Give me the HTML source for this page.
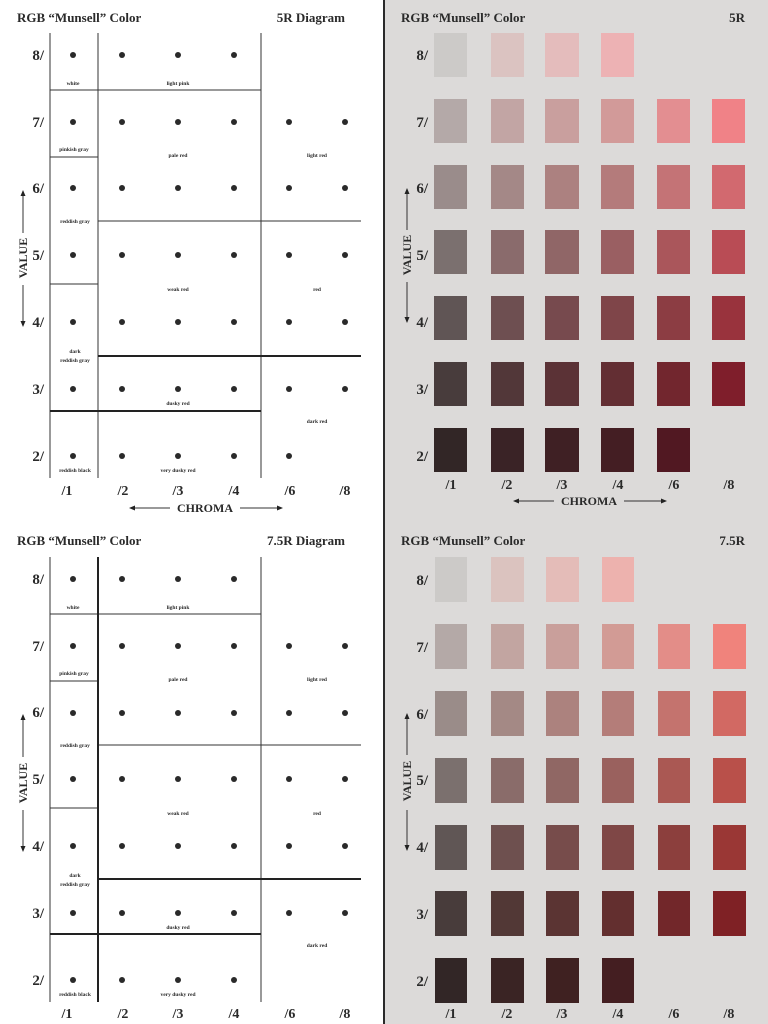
<!DOCTYPE html>
<html><head><meta charset="utf-8"><style>
html,body{margin:0;padding:0;width:768px;height:1024px;overflow:hidden;background:#fff}
svg{position:absolute;left:0;top:0}
text{font-family:"Liberation Serif",serif;font-weight:bold;fill:#2a2a2a}
.t{font-size:13px}
.n{font-size:15px}
.s{font-size:5.5px;text-anchor:middle}
.c{font-size:14px;text-anchor:middle}
.ax{font-size:12px;font-weight:bold}
.ln{stroke:#333;stroke-width:1;fill:none}
.th{stroke:#222;stroke-width:2;fill:none}
</style></head><body>
<svg width="768" height="1024" viewBox="0 0 768 1024">
<defs>
<marker id="ah" markerWidth="6" markerHeight="6" refX="5" refY="3" orient="auto"><path d="M0,0.5 L6,3 L0,5.5 z" fill="#222"/></marker>
</defs>
<rect x="0" y="0" width="384" height="1024" fill="#fff"/>
<rect x="384" y="0" width="384" height="1024" fill="#dcdad9"/>
<rect x="383" y="0" width="2" height="1024" fill="#2a2a2a"/>

<!-- TOP LEFT -->
<g>
<text class="t" x="17" y="22">RGB “Munsell” Color</text>
<text class="t" x="345" y="22" text-anchor="end">5R Diagram</text>
<text class="n" x="44" y="60" text-anchor="end">8/</text>
<text class="n" x="44" y="127" text-anchor="end">7/</text>
<text class="n" x="44" y="193" text-anchor="end">6/</text>
<text class="n" x="44" y="260" text-anchor="end">5/</text>
<text class="n" x="44" y="327" text-anchor="end">4/</text>
<text class="n" x="44" y="394" text-anchor="end">3/</text>
<text class="n" x="44" y="461" text-anchor="end">2/</text>
<path class="ln" d="M50,33V478M98,33V478M261,33V478M50,90H261M50,157H98M98,221H361M50,284H98"/>
<path class="th" d="M98,356H361M50,411H261"/>
<g fill="#2a2a2a">
<circle cx="73" cy="55" r="3"/><circle cx="122" cy="55" r="3"/><circle cx="178" cy="55" r="3"/><circle cx="234" cy="55" r="3"/>
<circle cx="73" cy="122" r="3"/><circle cx="122" cy="122" r="3"/><circle cx="178" cy="122" r="3"/><circle cx="234" cy="122" r="3"/><circle cx="289" cy="122" r="3"/><circle cx="345" cy="122" r="3"/>
<circle cx="73" cy="188" r="3"/><circle cx="122" cy="188" r="3"/><circle cx="178" cy="188" r="3"/><circle cx="234" cy="188" r="3"/><circle cx="289" cy="188" r="3"/><circle cx="345" cy="188" r="3"/>
<circle cx="73" cy="255" r="3"/><circle cx="122" cy="255" r="3"/><circle cx="178" cy="255" r="3"/><circle cx="234" cy="255" r="3"/><circle cx="289" cy="255" r="3"/><circle cx="345" cy="255" r="3"/>
<circle cx="73" cy="322" r="3"/><circle cx="122" cy="322" r="3"/><circle cx="178" cy="322" r="3"/><circle cx="234" cy="322" r="3"/><circle cx="289" cy="322" r="3"/><circle cx="345" cy="322" r="3"/>
<circle cx="73" cy="389" r="3"/><circle cx="122" cy="389" r="3"/><circle cx="178" cy="389" r="3"/><circle cx="234" cy="389" r="3"/><circle cx="289" cy="389" r="3"/><circle cx="345" cy="389" r="3"/>
<circle cx="73" cy="456" r="3"/><circle cx="122" cy="456" r="3"/><circle cx="178" cy="456" r="3"/><circle cx="234" cy="456" r="3"/><circle cx="289" cy="456" r="3"/>
</g>
<text class="s" x="73" y="85">white</text>
<text class="s" x="178" y="85">light pink</text>
<text class="s" x="74" y="151">pinkish gray</text>
<text class="s" x="178" y="157">pale red</text>
<text class="s" x="317" y="157">light red</text>
<text class="s" x="75" y="223">reddish gray</text>
<text class="s" x="178" y="291">weak red</text>
<text class="s" x="317" y="291">red</text>
<text class="s" x="75" y="353">dark</text>
<text class="s" x="75" y="362">reddish gray</text>
<text class="s" x="178" y="405">dusky red</text>
<text class="s" x="317" y="423">dark red</text>
<text class="s" x="75" y="472">reddish black</text>
<text class="s" x="178" y="472">very dusky red</text>
<text class="c" x="67" y="495">/1</text><text class="c" x="123" y="495">/2</text><text class="c" x="178" y="495">/3</text><text class="c" x="234" y="495">/4</text><text class="c" x="290" y="495">/6</text><text class="c" x="345" y="495">/8</text>
<text class="c ax" x="205" y="512">CHROMA</text>
<path class="ln" d="M170,508H130" marker-end="url(#ah)"/><path class="ln" d="M240,508H282" marker-end="url(#ah)"/>
<text class="ax" text-anchor="middle" transform="translate(27,258) rotate(-90)">VALUE</text>
<path class="ln" d="M23,233V191" marker-end="url(#ah)"/><path class="ln" d="M23,285V326" marker-end="url(#ah)"/>
</g>

<!-- TOP RIGHT -->
<g>
<text class="t" x="401" y="22">RGB “Munsell” Color</text>
<text class="t" x="745" y="22" text-anchor="end">5R</text>
<text class="n" x="428" y="60" text-anchor="end">8/</text>
<text class="n" x="428" y="127" text-anchor="end">7/</text>
<text class="n" x="428" y="193" text-anchor="end">6/</text>
<text class="n" x="428" y="260" text-anchor="end">5/</text>
<text class="n" x="428" y="327" text-anchor="end">4/</text>
<text class="n" x="428" y="394" text-anchor="end">3/</text>
<text class="n" x="428" y="461" text-anchor="end">2/</text>
<rect x="434" y="33" width="33" height="44" fill="#cccac8"/><rect x="491" y="33" width="33" height="44" fill="#dbc3c1"/><rect x="545" y="33" width="34" height="44" fill="#e4bcbc"/><rect x="601" y="33" width="33" height="44" fill="#edb2b4"/>
<rect x="434" y="99" width="33" height="44" fill="#b4a9a8"/><rect x="491" y="99" width="33" height="44" fill="#c2a5a4"/><rect x="545" y="99" width="34" height="44" fill="#c99f9e"/><rect x="601" y="99" width="33" height="44" fill="#d29a99"/><rect x="657" y="99" width="33" height="44" fill="#e38e91"/><rect x="712" y="99" width="33" height="44" fill="#f08287"/>
<rect x="434" y="165" width="33" height="44" fill="#9a8c8b"/><rect x="491" y="165" width="33" height="44" fill="#a48887"/><rect x="545" y="165" width="34" height="44" fill="#ac8180"/><rect x="601" y="165" width="33" height="44" fill="#b47b7b"/><rect x="657" y="165" width="33" height="44" fill="#c47376"/><rect x="712" y="165" width="33" height="44" fill="#d2696f"/>
<rect x="434" y="230" width="33" height="44" fill="#7b706f"/><rect x="491" y="230" width="33" height="44" fill="#8a6b6c"/><rect x="545" y="230" width="34" height="44" fill="#906667"/><rect x="601" y="230" width="33" height="44" fill="#9a5f62"/><rect x="657" y="230" width="33" height="44" fill="#aa565b"/><rect x="712" y="230" width="33" height="44" fill="#b94c55"/>
<rect x="434" y="296" width="33" height="44" fill="#605555"/><rect x="491" y="296" width="33" height="44" fill="#6e4f51"/><rect x="545" y="296" width="34" height="44" fill="#774a4e"/><rect x="601" y="296" width="33" height="44" fill="#7f4549"/><rect x="657" y="296" width="33" height="44" fill="#8c3d43"/><rect x="712" y="296" width="33" height="44" fill="#99333d"/>
<rect x="434" y="362" width="33" height="44" fill="#483c3c"/><rect x="491" y="362" width="33" height="44" fill="#523739"/><rect x="545" y="362" width="34" height="44" fill="#5b3236"/><rect x="601" y="362" width="33" height="44" fill="#632e33"/><rect x="657" y="362" width="33" height="44" fill="#72262e"/><rect x="712" y="362" width="33" height="44" fill="#7f1e2b"/>
<rect x="434" y="428" width="33" height="44" fill="#322626"/><rect x="491" y="428" width="33" height="44" fill="#3a2326"/><rect x="545" y="428" width="34" height="44" fill="#3f2024"/><rect x="601" y="428" width="33" height="44" fill="#441e23"/><rect x="657" y="428" width="33" height="44" fill="#511822"/>
<text class="c" x="451" y="489">/1</text><text class="c" x="507" y="489">/2</text><text class="c" x="562" y="489">/3</text><text class="c" x="618" y="489">/4</text><text class="c" x="674" y="489">/6</text><text class="c" x="729" y="489">/8</text>
<text class="c ax" x="589" y="505">CHROMA</text>
<path class="ln" d="M554,501H514" marker-end="url(#ah)"/><path class="ln" d="M624,501H666" marker-end="url(#ah)"/>
<text class="ax" text-anchor="middle" transform="translate(411,255) rotate(-90)">VALUE</text>
<path class="ln" d="M407,230V189" marker-end="url(#ah)"/><path class="ln" d="M407,282V322" marker-end="url(#ah)"/>
</g>

<!-- BOTTOM LEFT -->
<g transform="translate(0,523)">
<text class="t" x="17" y="22">RGB “Munsell” Color</text>
<text class="t" x="345" y="22" text-anchor="end">7.5R Diagram</text>
<text class="n" x="44" y="61" text-anchor="end">8/</text>
<text class="n" x="44" y="128" text-anchor="end">7/</text>
<text class="n" x="44" y="194" text-anchor="end">6/</text>
<text class="n" x="44" y="261" text-anchor="end">5/</text>
<text class="n" x="44" y="328" text-anchor="end">4/</text>
<text class="n" x="44" y="395" text-anchor="end">3/</text>
<text class="n" x="44" y="462" text-anchor="end">2/</text>
<path class="ln" d="M50,34V479M261,34V479M50,91H261M50,158H98M98,222H361M50,285H98"/>
<path class="th" d="M98,34V479M98,356H361M50,411H261"/>
<g fill="#2a2a2a">
<circle cx="73" cy="56" r="3"/><circle cx="122" cy="56" r="3"/><circle cx="178" cy="56" r="3"/><circle cx="234" cy="56" r="3"/>
<circle cx="73" cy="123" r="3"/><circle cx="122" cy="123" r="3"/><circle cx="178" cy="123" r="3"/><circle cx="234" cy="123" r="3"/><circle cx="289" cy="123" r="3"/><circle cx="345" cy="123" r="3"/>
<circle cx="73" cy="190" r="3"/><circle cx="122" cy="190" r="3"/><circle cx="178" cy="190" r="3"/><circle cx="234" cy="190" r="3"/><circle cx="289" cy="190" r="3"/><circle cx="345" cy="190" r="3"/>
<circle cx="73" cy="256" r="3"/><circle cx="122" cy="256" r="3"/><circle cx="178" cy="256" r="3"/><circle cx="234" cy="256" r="3"/><circle cx="289" cy="256" r="3"/><circle cx="345" cy="256" r="3"/>
<circle cx="73" cy="323" r="3"/><circle cx="122" cy="323" r="3"/><circle cx="178" cy="323" r="3"/><circle cx="234" cy="323" r="3"/><circle cx="289" cy="323" r="3"/><circle cx="345" cy="323" r="3"/>
<circle cx="73" cy="390" r="3"/><circle cx="122" cy="390" r="3"/><circle cx="178" cy="390" r="3"/><circle cx="234" cy="390" r="3"/><circle cx="289" cy="390" r="3"/><circle cx="345" cy="390" r="3"/>
<circle cx="73" cy="457" r="3"/><circle cx="122" cy="457" r="3"/><circle cx="178" cy="457" r="3"/><circle cx="234" cy="457" r="3"/>
</g>
<text class="s" x="73" y="86">white</text>
<text class="s" x="178" y="86">light pink</text>
<text class="s" x="74" y="152">pinkish gray</text>
<text class="s" x="178" y="158">pale red</text>
<text class="s" x="317" y="158">light red</text>
<text class="s" x="75" y="224">reddish gray</text>
<text class="s" x="178" y="292">weak red</text>
<text class="s" x="317" y="292">red</text>
<text class="s" x="75" y="354">dark</text>
<text class="s" x="75" y="363">reddish gray</text>
<text class="s" x="178" y="406">dusky red</text>
<text class="s" x="317" y="424">dark red</text>
<text class="s" x="75" y="473">reddish black</text>
<text class="s" x="178" y="473">very dusky red</text>
<text class="c" x="67" y="495">/1</text><text class="c" x="123" y="495">/2</text><text class="c" x="178" y="495">/3</text><text class="c" x="234" y="495">/4</text><text class="c" x="290" y="495">/6</text><text class="c" x="345" y="495">/8</text>
<text class="ax" text-anchor="middle" transform="translate(27,260) rotate(-90)">VALUE</text>
<path class="ln" d="M23,234V192" marker-end="url(#ah)"/><path class="ln" d="M23,287V328" marker-end="url(#ah)"/>
</g>

<!-- BOTTOM RIGHT -->
<g transform="translate(0,523)">
<text class="t" x="401" y="22">RGB “Munsell” Color</text>
<text class="t" x="745" y="22" text-anchor="end">7.5R</text>
<text class="n" x="428" y="62" text-anchor="end">8/</text>
<text class="n" x="428" y="129" text-anchor="end">7/</text>
<text class="n" x="428" y="196" text-anchor="end">6/</text>
<text class="n" x="428" y="262" text-anchor="end">5/</text>
<text class="n" x="428" y="329" text-anchor="end">4/</text>
<text class="n" x="428" y="396" text-anchor="end">3/</text>
<text class="n" x="428" y="463" text-anchor="end">2/</text>
<rect x="435" y="34" width="32" height="45" fill="#cccac8"/><rect x="491" y="34" width="33" height="45" fill="#dbc3bf"/><rect x="546" y="34" width="33" height="45" fill="#e4bcb8"/><rect x="602" y="34" width="32" height="45" fill="#edb2ae"/>
<rect x="435" y="101" width="32" height="45" fill="#b4a9a7"/><rect x="491" y="101" width="33" height="45" fill="#c2a5a1"/><rect x="546" y="101" width="33" height="45" fill="#c99f9b"/><rect x="602" y="101" width="32" height="45" fill="#d29b95"/><rect x="658" y="101" width="32" height="45" fill="#e38d88"/><rect x="713" y="101" width="33" height="45" fill="#f0837c"/>
<rect x="435" y="168" width="32" height="45" fill="#9a8c89"/><rect x="491" y="168" width="33" height="45" fill="#a48985"/><rect x="546" y="168" width="33" height="45" fill="#ac827e"/><rect x="602" y="168" width="32" height="45" fill="#b47d79"/><rect x="658" y="168" width="32" height="45" fill="#c4736e"/><rect x="713" y="168" width="33" height="45" fill="#d26963"/>
<rect x="435" y="235" width="32" height="45" fill="#7b706e"/><rect x="491" y="235" width="33" height="45" fill="#8a6c6a"/><rect x="546" y="235" width="33" height="45" fill="#906764"/><rect x="602" y="235" width="32" height="45" fill="#9a615e"/><rect x="658" y="235" width="32" height="45" fill="#aa5853"/><rect x="713" y="235" width="33" height="45" fill="#b9504a"/>
<rect x="435" y="302" width="32" height="45" fill="#605655"/><rect x="491" y="302" width="33" height="45" fill="#6e504f"/><rect x="546" y="302" width="33" height="45" fill="#774c4b"/><rect x="602" y="302" width="32" height="45" fill="#7f4746"/><rect x="658" y="302" width="32" height="45" fill="#8c3f3d"/><rect x="713" y="302" width="33" height="45" fill="#9a3735"/>
<rect x="435" y="368" width="32" height="45" fill="#483c3b"/><rect x="491" y="368" width="33" height="45" fill="#523836"/><rect x="546" y="368" width="33" height="45" fill="#5b3433"/><rect x="602" y="368" width="32" height="45" fill="#632f2f"/><rect x="658" y="368" width="32" height="45" fill="#72272a"/><rect x="713" y="368" width="33" height="45" fill="#7f2125"/>
<rect x="435" y="435" width="32" height="45" fill="#322626"/><rect x="491" y="435" width="33" height="45" fill="#3a2424"/><rect x="546" y="435" width="33" height="45" fill="#3f2121"/><rect x="602" y="435" width="32" height="45" fill="#441e21"/>
<text class="c" x="451" y="495">/1</text><text class="c" x="507" y="495">/2</text><text class="c" x="562" y="495">/3</text><text class="c" x="618" y="495">/4</text><text class="c" x="674" y="495">/6</text><text class="c" x="729" y="495">/8</text>
<text class="ax" text-anchor="middle" transform="translate(411,258) rotate(-90)">VALUE</text>
<path class="ln" d="M407,232V191" marker-end="url(#ah)"/><path class="ln" d="M407,287V327" marker-end="url(#ah)"/>
</g>
</svg>
</body></html>
